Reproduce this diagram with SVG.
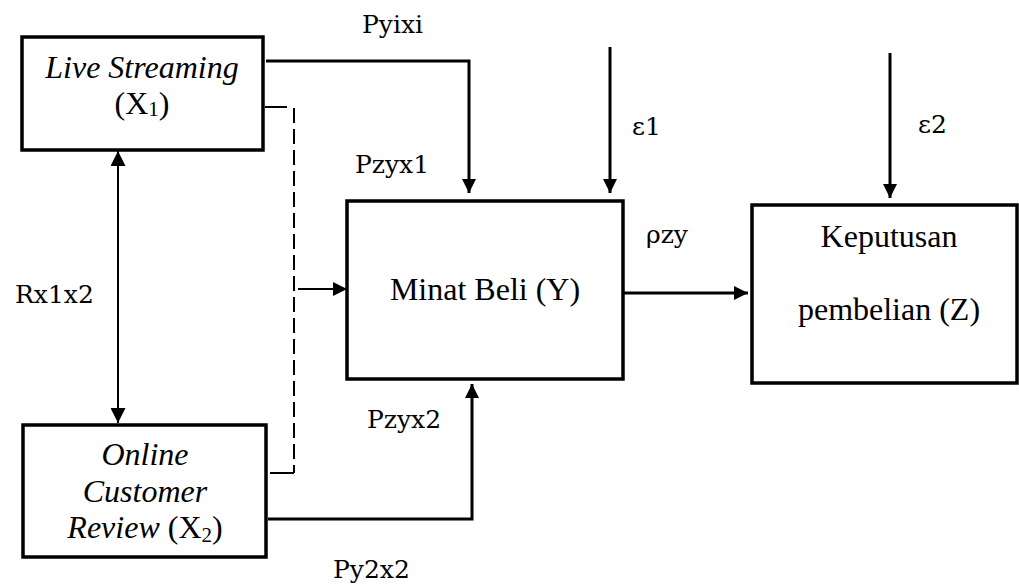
<svg xmlns="http://www.w3.org/2000/svg" width="1019" height="585" viewBox="0 0 1019 585">
<style>
.box{fill:#fff;stroke:#000;stroke-width:3.5}
.t{font-family:'Liberation Serif','Times New Roman',Tinos,'Noto Serif','DejaVu Serif',FreeSerif,serif;font-size:32px;fill:#000;text-anchor:middle}
.i{font-style:italic}
.lab{font-family:'DejaVu Serif','Liberation Serif','Noto Serif',Cambria,serif;font-size:25px;fill:#000}
.c{fill:none;stroke:#000;stroke-width:3}
.thin{fill:none;stroke:#000;stroke-width:2}
.dash{fill:none;stroke:#000;stroke-width:2;stroke-dasharray:15,6}
</style>
<defs>
<marker id="ah" viewBox="0 0 10 10" refX="10" refY="5" markerWidth="14" markerHeight="14" markerUnits="userSpaceOnUse" orient="auto-start-reverse">
<path d="M0,0 L10,5 L0,10 Z" fill="#000"/>
</marker>
<marker id="ahs" viewBox="0 0 10 10" refX="10" refY="5" markerWidth="15" markerHeight="15" markerUnits="userSpaceOnUse" orient="auto-start-reverse">
<path d="M0,0 L10,5 L0,10 Z" fill="#000"/>
</marker>
</defs>
<rect width="1019" height="585" fill="#fff"/>
<g id="connectors">
<path class="c" d="M266,61 H469 V193" marker-end="url(#ah)"/>
<path class="thin" d="M265,107 H287"/>
<path class="dash" d="M294,108 V473"/>
<path class="thin" d="M270,473 H294"/>
<path class="thin" d="M298,289 H347" marker-end="url(#ah)"/>
<path class="thin" d="M118,151 V423" marker-start="url(#ahs)" marker-end="url(#ahs)"/>
<path class="c" d="M268,519 H472 V384" marker-end="url(#ah)"/>
<path class="c" d="M610,47 V193" marker-end="url(#ah)"/>
<path class="c" d="M890,53 V198" marker-end="url(#ah)"/>
<path class="c" d="M624,293 H748" marker-end="url(#ah)"/>
</g>
<g id="labels">
<text class="lab" x="362" y="33">Pyixi</text>
<text class="lab" x="355" y="173">Pzyx1</text>
<text class="lab" x="15" y="303">Rx1x2</text>
<text class="lab" x="367" y="428">Pzyx2</text>
<text class="lab" x="333" y="578">Py2x2</text>
<text class="lab" x="632" y="135">ε1</text>
<text class="lab" x="918" y="133">ε2</text>
<text class="lab" x="646" y="243">ρzy</text>
</g>
<g id="node-x1">
<rect class="box" x="22" y="37" width="241" height="113"/>
<text class="t i" x="142" y="78">Live Streaming</text>
<text class="t" x="142" y="114">(X<tspan font-size="21" dy="2">1</tspan><tspan dy="-2">)</tspan></text>
</g>
<g id="node-x2">
<rect class="box" x="23" y="425" width="243" height="132"/>
<text class="t i" x="145" y="465">Online</text>
<text class="t i" x="145" y="502">Customer</text>
<text class="t" x="145" y="538"><tspan font-style="italic">Review</tspan> (X<tspan font-size="21" dy="4">2</tspan><tspan dy="-4">)</tspan></text>
</g>
<g id="node-y">
<rect class="box" x="347" y="201" width="276" height="178"/>
<text class="t" x="485" y="300">Minat Beli (Y)</text>
</g>
<g id="node-z">
<rect class="box" x="752" y="205" width="265" height="178"/>
<text class="t" x="889" y="247">Keputusan</text>
<text class="t" x="889" y="320">pembelian (Z)</text>
</g>
</svg>
